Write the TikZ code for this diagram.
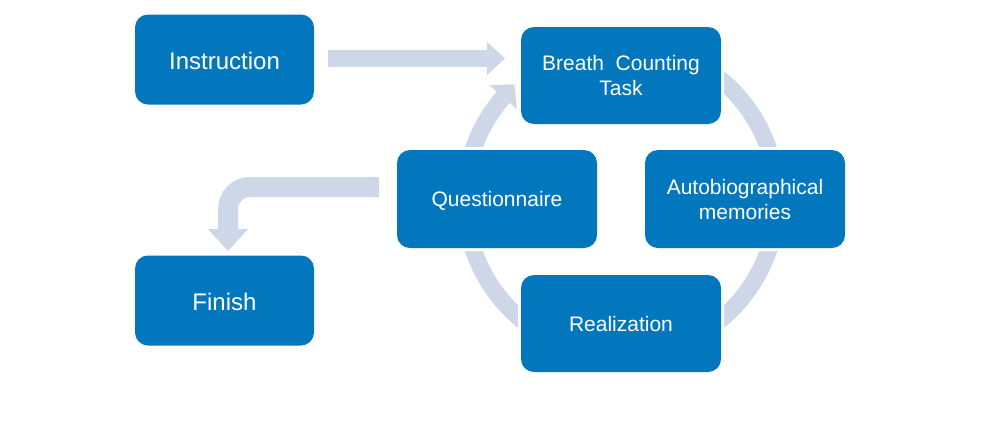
\documentclass[tikz,border=0pt]{standalone}
\usepackage{fontspec}
\setmainfont{Liberation Sans}
\usetikzlibrary{calc,backgrounds}
\definecolor{boxblue}{RGB}{2,119,189}
\definecolor{arrowgrey}{RGB}{205,215,232}
\begin{document}
\begin{tikzpicture}[x=1pt,y=-1pt,
  stepbox/.style={rectangle, rounded corners=13pt, fill=boxblue, text=white,
    inner sep=0pt, align=center, minimum width=200pt, minimum height=98pt,
    preaction={draw=white, line width=6pt},
    font=\fontsize{21}{25}\selectfont},
  oneline/.style={text height=15.4pt, text depth=0pt},
  endbox/.style={stepbox, minimum width=179pt, minimum height=90pt,
    text height=19.5pt, text depth=0pt,
    font=\fontsize{24}{29}\selectfont},
  blockshaft/.style={draw=arrowgrey, line cap=butt},
  blockhead/.style={fill=arrowgrey}]
\useasboundingbox (0,0) rectangle (1007,424);
% nodes
\node[endbox] (instr) at (224.5,59.5) {Instruction};
\node[endbox] (finish) at (224.5,300.5) {Finish};
\node[stepbox, minimum height=97pt] (breath) at (621,75.5) {Breath\ \ Counting\\Task};
\node[stepbox] (auto) at (745,199) {Autobiographical\\memories};
\node[stepbox, oneline, minimum height=97pt] (real) at (621,323.5) {Realization};
\node[stepbox, oneline] (quest) at (497,199) {Questionnaire};
% arrow coordinates
\coordinate (c) at ($(breath)!0.5!(real)$);
\coordinate (s1) at (328,58.5);
\coordinate (h1) at (487,58.5);
\coordinate (t1) at (505,58.5);
\coordinate (s2) at (379,187);
\coordinate (k2) at (228,187);
\coordinate (h2) at (228,229);
\coordinate (t2) at (228,251);
\begin{scope}[on background layer]
  \fill[white] (0,0) rectangle (1007,424);
  % cycle ring
  \draw[blockshaft, line width=17pt] ($(c)+(-60:156)$) arc[start angle=-60, end angle=221, radius=156];
  \fill[blockhead] ($(c)+(221:156)+(221:18)$) -- ($(c)+(221:156)+(41:18)$) -- ($(c)+(221:156)+(311:17)$) -- cycle;
  % instruction -> breath
  \draw[blockshaft, line width=17pt] (s1) -- (h1);
  \fill[blockhead] ($(h1)+(0,-16.5)$) -- ($(h1)+(0,16.5)$) -- (t1) -- cycle;
  % questionnaire -> finish
  \draw[blockshaft, line width=20pt, rounded corners=22pt] (s2) -- (k2) -- (h2);
  \fill[blockhead] ($(h2)+(-20,0)$) -- ($(h2)+(20,0)$) -- (t2) -- cycle;
\end{scope}
\end{tikzpicture}
\end{document}
